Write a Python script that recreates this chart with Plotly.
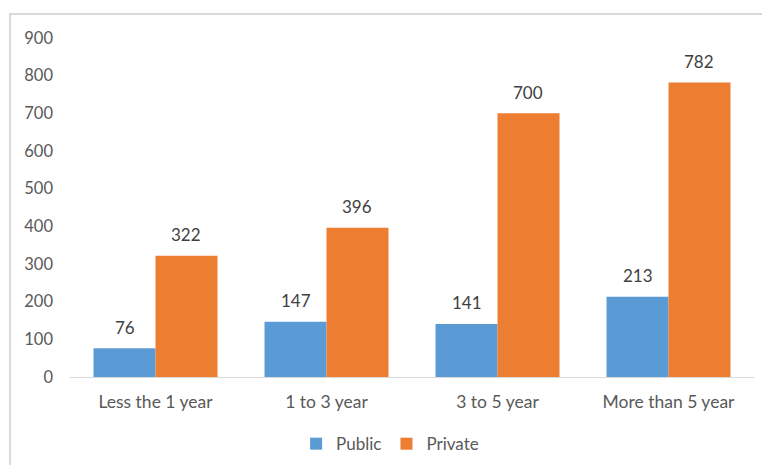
import plotly.graph_objects as go

categories = ["Less the 1 year", "1 to 3 year", "3 to 5 year", "More than 5 year"]
public = [76, 147, 141, 213]
private = [322, 396, 700, 782]
y_ticks = [0, 100, 200, 300, 400, 500, 600, 700, 800, 900]

FONT = "Lato"
fig = go.Figure()
fig.add_trace(go.Bar(name="Public", x=categories, y=public, marker=dict(color="#5B9BD5", line=dict(width=0))))
fig.add_trace(go.Bar(name="Private", x=categories, y=private, marker=dict(color="#ED7D31", line=dict(width=0))))

annotations = []
for i, c in enumerate(categories):
    for val, off in ((public[i], -0.18), (private[i], 0.18)):
        annotations.append(dict(x=i + off, y=val, xref="x", yref="y", text=str(val), showarrow=False,
                                yshift=21, font=dict(family=FONT, size=17, color="#404040")))

fig.update_layout(
    width=762, height=465,
    margin=dict(l=70, r=8, t=38, b=88, autoexpand=False),
    paper_bgcolor="white", plot_bgcolor="white",
    barmode="group", bargap=0.275, bargroupgap=0,
    font=dict(family=FONT, size=15, color="#595959"),
    xaxis=dict(showline=True, linecolor="#D9D9D9", linewidth=1, ticks="", showgrid=False,
               ticklabelstandoff=9, automargin=False,
               tickfont=dict(family=FONT, size=17.5, color="#595959")),
    yaxis=dict(range=[0, 900], tickvals=y_ticks, showgrid=False, zeroline=False, showline=False,
               automargin=False,
               ticks="", ticklabelstandoff=16, tickfont=dict(family=FONT, size=16.5, color="#595959")),
    legend=dict(orientation="h", x=0.468, xanchor="center", y=-0.198, yanchor="middle",
                font=dict(family=FONT, size=17, color="#595959"), itemwidth=30),
    annotations=annotations,
    shapes=[dict(type="rect", xref="paper", yref="paper", x0=-0.0877, x1=1.02, y0=-0.3, y1=1.071,
                 line=dict(color="#D9D9D9", width=2), fillcolor="rgba(0,0,0,0)", layer="below")],
    showlegend=True,
)
fig.write_html("out.html")
